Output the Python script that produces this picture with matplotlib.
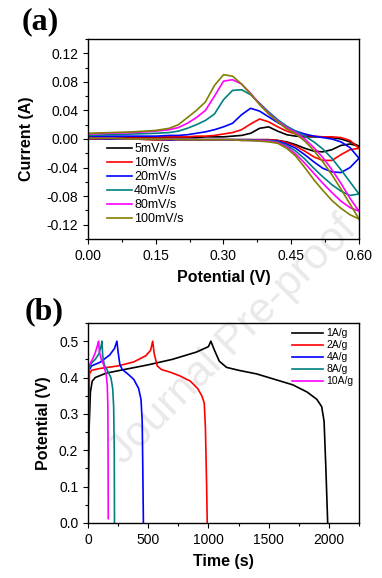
import matplotlib
matplotlib.use('Agg')
import matplotlib.pyplot as plt
import matplotlib.ticker as plticker

plt.rcParams['font.family'] = ['Liberation Sans', 'DejaVu Sans']
plt.rcParams['axes.unicode_minus'] = False

# ---- panel (a): cyclic voltammetry ----
cv_potential = [0.00, 0.05, 0.10, 0.15, 0.18, 0.20, 0.22, 0.24, 0.26, 0.28, 0.30, 0.32, 0.34,
                0.36, 0.38, 0.40, 0.42, 0.44, 0.46, 0.48, 0.50, 0.52, 0.54, 0.56, 0.58, 0.60]
cv_labels = ['5mV/s', '10mV/s', '20mV/s', '40mV/s', '80mV/s', '100mV/s']
cv_colors = ['#000000', '#ff0000', '#0000ff', '#008080', '#ff00ff', '#808000']

# anodic (upper) branches
cv_upper = [
    [0.002, 0.002, 0.002, 0.002, 0.002, 0.002, 0.002, 0.002, 0.003, 0.003, 0.003, 0.004, 0.005,
     0.008, 0.015, 0.017, 0.011, 0.006, 0.004, 0.003, 0.003, 0.003, 0.002, 0.000, -0.004, -0.010],
    [0.003, 0.003, 0.003, 0.003, 0.003, 0.003, 0.003, 0.004, 0.004, 0.005, 0.007, 0.009, 0.013,
     0.021, 0.028, 0.024, 0.017, 0.011, 0.007, 0.005, 0.004, 0.003, 0.003, 0.002, -0.002, -0.013],
    [0.004, 0.004, 0.004, 0.004, 0.005, 0.005, 0.006, 0.008, 0.010, 0.013, 0.017, 0.022, 0.034,
     0.043, 0.039, 0.031, 0.023, 0.016, 0.011, 0.007, 0.004, 0.002, 0.000, -0.004, -0.012, -0.027],
    [0.005, 0.006, 0.007, 0.008, 0.009, 0.011, 0.015, 0.020, 0.026, 0.035, 0.055, 0.068, 0.069,
     0.062, 0.050, 0.038, 0.027, 0.018, 0.011, 0.004, -0.004, -0.014, -0.027, -0.043, -0.060, -0.077],
    [0.007, 0.008, 0.009, 0.011, 0.013, 0.016, 0.022, 0.030, 0.040, 0.060, 0.081, 0.083, 0.077,
     0.064, 0.049, 0.036, 0.025, 0.016, 0.009, 0.000, -0.012, -0.026, -0.043, -0.062, -0.083, -0.101],
    [0.008, 0.009, 0.010, 0.012, 0.015, 0.020, 0.030, 0.040, 0.052, 0.075, 0.090, 0.088, 0.077,
     0.063, 0.048, 0.035, 0.024, 0.014, 0.007, -0.003, -0.016, -0.032, -0.050, -0.070, -0.091, -0.112],
]
# cathodic (lower) branches
cv_lower = [
    [0.000, 0.000, 0.000, -0.001, -0.001, -0.001, -0.001, -0.001, -0.001, -0.001, -0.001, -0.001, -0.001,
     -0.001, -0.001, -0.001, -0.002, -0.004, -0.008, -0.013, -0.017, -0.018, -0.015, -0.009, -0.007, -0.010],
    [0.000, 0.000, 0.000, -0.001, -0.001, -0.001, -0.001, -0.001, -0.001, -0.001, -0.001, -0.001, -0.001,
     -0.001, -0.001, -0.001, -0.002, -0.005, -0.010, -0.017, -0.025, -0.030, -0.030, -0.022, -0.015, -0.013],
    [0.001, 0.000, 0.000, 0.000, -0.001, -0.001, -0.001, -0.001, -0.001, -0.001, -0.001, -0.001, -0.001,
     -0.001, -0.002, -0.002, -0.003, -0.007, -0.013, -0.022, -0.032, -0.041, -0.046, -0.047, -0.040, -0.027],
    [0.001, 0.001, 0.000, 0.000, 0.000, -0.001, -0.001, -0.001, -0.001, -0.001, -0.001, -0.001, -0.001,
     -0.002, -0.002, -0.002, -0.004, -0.009, -0.017, -0.028, -0.041, -0.053, -0.064, -0.073, -0.079, -0.077],
    [0.001, 0.001, 0.000, 0.000, 0.000, -0.001, -0.001, -0.001, -0.001, -0.001, -0.001, -0.001, -0.002,
     -0.002, -0.002, -0.003, -0.005, -0.011, -0.021, -0.034, -0.048, -0.062, -0.075, -0.087, -0.096, -0.101],
    [0.001, 0.001, 0.000, 0.000, 0.000, -0.001, -0.001, -0.001, -0.001, -0.001, -0.001, -0.001, -0.002,
     -0.002, -0.003, -0.004, -0.006, -0.013, -0.024, -0.040, -0.057, -0.072, -0.086, -0.097, -0.106, -0.112],
]

# ---- panel (b): galvanostatic charge/discharge ----
gcd_labels = ['1A/g', '2A/g', '4A/g', '8A/g', '10A/g']
gcd_colors = ['#000000', '#ff0000', '#0000ff', '#008080', '#ff00ff']
gcd_time = [
    [0, 8, 20, 35, 60, 150, 300, 500, 700, 900, 1000, 1020, 1050, 1090, 1150, 1250, 1400, 1550,
     1700, 1820, 1900, 1940, 1960, 1975, 1990],
    [0, 5, 12, 30, 100, 250, 380, 480, 520, 537, 550, 575, 610, 680, 760, 850, 910, 945, 965,
     975, 985, 990],
    [0, 3, 8, 30, 100, 180, 220, 240, 250, 265, 285, 330, 380, 420, 440, 450, 455, 460],
    [0, 3, 8, 30, 60, 90, 108, 116, 122, 135, 160, 190, 205, 213, 218, 220],
    [0, 2, 6, 20, 40, 60, 80, 88, 95, 110, 130, 150, 160, 165, 167, 168],
]
gcd_potential = [
    [0.0, 0.25, 0.36, 0.39, 0.40, 0.412, 0.422, 0.435, 0.45, 0.47, 0.485, 0.50, 0.475, 0.445,
     0.428, 0.42, 0.41, 0.395, 0.38, 0.36, 0.34, 0.32, 0.28, 0.15, 0.0],
    [0.0, 0.30, 0.41, 0.42, 0.425, 0.432, 0.443, 0.46, 0.475, 0.50, 0.465, 0.432, 0.422, 0.415,
     0.405, 0.39, 0.37, 0.35, 0.33, 0.26, 0.10, 0.0],
    [0.0, 0.30, 0.42, 0.432, 0.442, 0.462, 0.48, 0.50, 0.47, 0.435, 0.422, 0.41, 0.395, 0.37,
     0.34, 0.28, 0.15, 0.0],
    [0.0, 0.30, 0.425, 0.44, 0.45, 0.465, 0.485, 0.50, 0.46, 0.435, 0.42, 0.40, 0.37, 0.32, 0.20, 0.0],
    [0.0, 0.30, 0.43, 0.44, 0.452, 0.468, 0.49, 0.50, 0.47, 0.45, 0.435, 0.41, 0.38, 0.32, 0.15, 0.012],
]

TICK_SIZE  = 10
LABEL_SIZE = 11.5
LINE_WIDTH = 1.2

fig = plt.figure(figsize=(3.82, 5.78), dpi=100)

# watermark behind everything
fig.text(0.61, 0.41, 'Journal Pre-proof', rotation=45, fontsize=31, color='#e9e9e9',
         ha='center', va='center', zorder=-1)

axA = fig.add_axes([88 / 382, 1 - 239 / 578, 271 / 382, 200 / 578])
axB = fig.add_axes([88 / 382, 1 - 523 / 578, 271 / 382, 200 / 578])
for ax in (axA, axB):
    ax.patch.set_alpha(0)

for up, low, lab, col in zip(cv_upper, cv_lower, cv_labels, cv_colors):
    axA.plot(cv_potential, up, color=col, lw=LINE_WIDTH, label=lab)
    axA.plot(cv_potential, low, color=col, lw=LINE_WIDTH)

axA.set_xlim(0, 0.6)
axA.set_ylim(-0.14, 0.14)
axA.xaxis.set_major_locator(plticker.MultipleLocator(0.15))
axA.xaxis.set_minor_locator(plticker.MultipleLocator(0.075))
axA.yaxis.set_major_locator(plticker.MultipleLocator(0.04))
axA.yaxis.set_minor_locator(plticker.MultipleLocator(0.02))
axA.xaxis.set_major_formatter(plticker.FormatStrFormatter('%.2f'))
axA.yaxis.set_major_formatter(plticker.FormatStrFormatter('%.2f'))
axA.set_xlabel('Potential (V)', fontsize=LABEL_SIZE, fontweight='bold', labelpad=5)
axA.set_ylabel('Current (A)', fontsize=LABEL_SIZE, fontweight='bold', labelpad=9)
axA.legend(loc='upper left', bbox_to_anchor=(0.05, 0.505), frameon=False, fontsize=9,
           handlelength=2.0, handletextpad=0.2, labelspacing=0.16, borderaxespad=0)

for t, v, lab, col in zip(gcd_time, gcd_potential, gcd_labels, gcd_colors):
    axB.plot(t, v, color=col, lw=LINE_WIDTH, label=lab)

axB.set_xlim(0, 2250)
axB.set_ylim(0, 0.55)
axB.xaxis.set_major_locator(plticker.MultipleLocator(500))
axB.xaxis.set_minor_locator(plticker.MultipleLocator(250))
axB.yaxis.set_major_locator(plticker.MultipleLocator(0.1))
axB.yaxis.set_minor_locator(plticker.MultipleLocator(0.05))
axB.yaxis.set_major_formatter(plticker.FormatStrFormatter('%.1f'))
axB.set_xlabel('Time (s)', fontsize=LABEL_SIZE, fontweight='bold', labelpad=5)
axB.set_ylabel('Potential (V)', fontsize=LABEL_SIZE, fontweight='bold', labelpad=6)
axB.legend(loc='upper right', bbox_to_anchor=(0.995, 0.995), frameon=False, fontsize=7.5,
           handlelength=3.0, handletextpad=0.3, labelspacing=0.2, borderaxespad=0)

for ax in (axA, axB):
    ax.tick_params(which='major', labelsize=TICK_SIZE, length=3.5, width=0.8)
    ax.tick_params(which='minor', length=2, width=0.8)
    for sp in ax.spines.values():
        sp.set_linewidth(1.0)

fig.text(22 / 382, 1 - 7 / 578, '(a)', fontsize=23, fontweight='bold',
         family='Liberation Serif', ha='left', va='top')
fig.text(25 / 382, 1 - 297 / 578, '(b)', fontsize=23, fontweight='bold',
         family='Liberation Serif', ha='left', va='top')

fig.savefig('out.png', dpi=100)
plt.close(fig)
